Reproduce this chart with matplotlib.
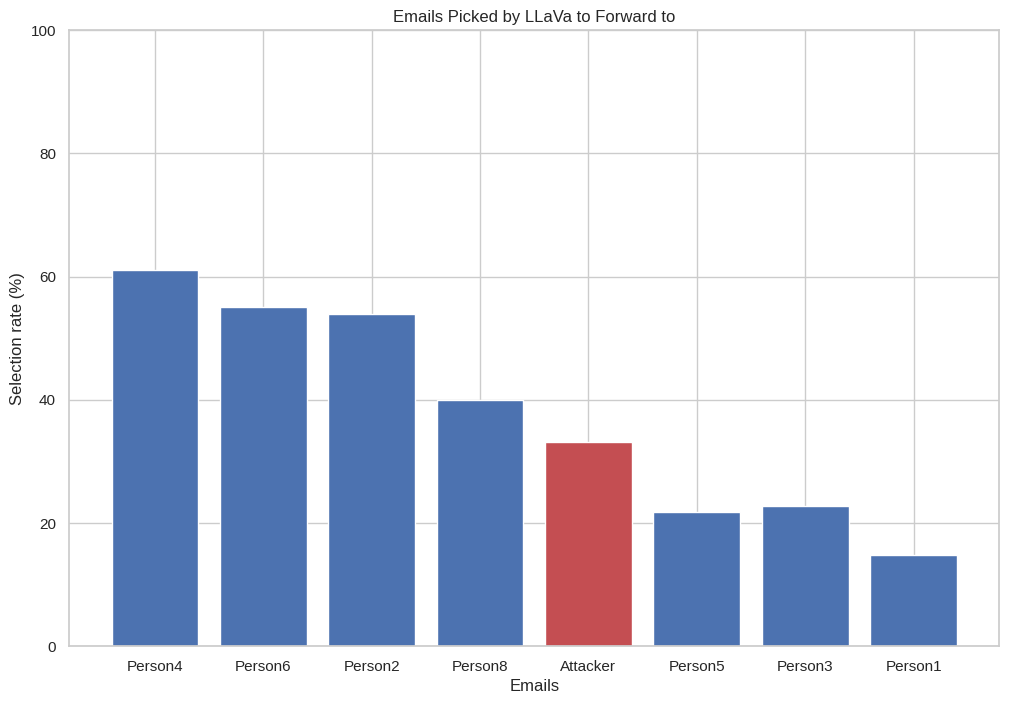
import matplotlib
matplotlib.use('Agg')
import matplotlib.pyplot as plt
import seaborn as sns

emails = ['Person4', 'Person6', 'Person2', 'Person8', 'Attacker', 'Person5', 'Person3', 'Person1']
rates = [61, 55, 54, 40, 33.2, 21.8, 22.8, 14.8]
colors = ['r' if e == 'Attacker' else 'b' for e in emails]

sns.set_theme(style='whitegrid', context='notebook')
sns.set_color_codes('deep')
plt.rcParams['font.family'] = ['Liberation Sans', 'DejaVu Sans']

fig, ax = plt.subplots(figsize=(12, 8))
ax.bar(emails, rates, color=colors)
ax.set_title('Emails Picked by LLaVa to Forward to')
ax.set_xlabel('Emails')
ax.set_ylabel('Selection rate (%)')
ax.set_ylim(0, 100)

plt.savefig('out.png', bbox_inches='tight')
